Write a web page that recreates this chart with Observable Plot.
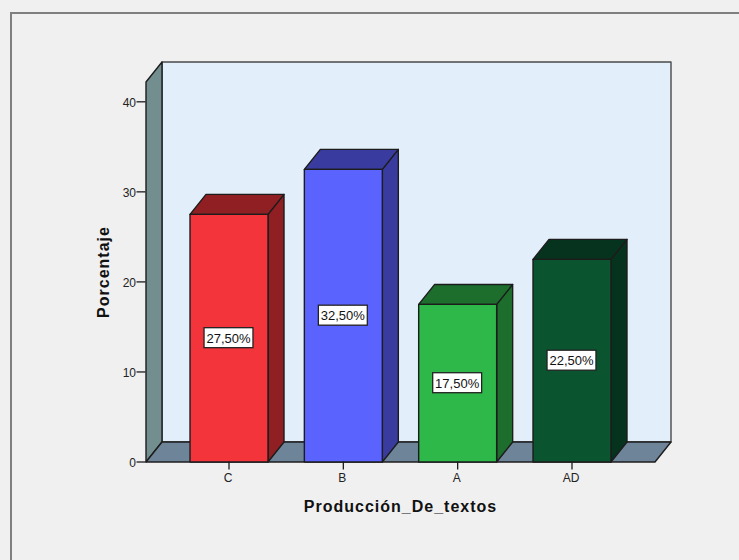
<!DOCTYPE html>
<html>
<head>
<meta charset="utf-8">
<script src="https://cdn.jsdelivr.net/npm/d3@7"></script>
<script src="https://cdn.jsdelivr.net/npm/@observablehq/plot@0.6"></script>
<style>
html,body{margin:0;padding:0;background:#f0f0f0;width:739px;height:560px;overflow:hidden}
#frame{position:absolute;left:10px;top:12px;right:-5px;bottom:-5px;border-left:2px solid #7f7f7f;border-top:2px solid #7f7f7f}
#chart{position:absolute;left:0;top:0}
svg{background:transparent!important}
.axis-title text{letter-spacing:1px}
</style>
</head>
<body>
<div id="frame"></div>
<div id="chart"></div>
<script>
const categories = ["C", "B", "A", "AD"];
const values = [27.5, 32.5, 17.5, 22.5];
const valueLabels = ["27,50%", "32,50%", "17,50%", "22,50%"];
const frontColors = ["#f3343b", "#5b63ff", "#2eb84a", "#0a5530"];
const topColors = ["#8f1f22", "#393c9e", "#1d6e2d", "#06331d"];
const sideColors = ["#8f1f22", "#393c9e", "#1d6e2d", "#06331d"];
const yTicks = [0, 10, 20, 30, 40];
const xTicks = [0, 1, 2, 3];

const xMin = -0.726, xMax = 3.726, yMax = 42.2;
const depthX = 0.14, depthY = 2.22, halfBar = 0.341;
const boxW = 0.214, boxH = 1.11;
const ink = "#1c1c1c";
const tickFont = {fontSize: 12, fontFamily: "Liberation Sans", fill: "#222"};

const poly = (pts, fill, stroke = ink, strokeWidth = 1.4) =>
  Plot.line([...pts, pts[0]].map(([x, y]) => ({x, y})), {
    x: "x", y: "y", fill, stroke, strokeWidth, strokeLinejoin: "round", curve: "linear"
  });

const marks = [
  // back wall
  poly([[xMin + depthX, depthY], [xMax + depthX, depthY], [xMax + depthX, yMax + depthY], [xMin + depthX, yMax + depthY]], "#e2effb", "#4a4a4a", 1.4),
  // left wall
  poly([[xMin, 0], [xMin + depthX, depthY], [xMin + depthX, yMax + depthY], [xMin, yMax]], "#738e8f"),
  // floor
  poly([[xMin, 0], [xMax, 0], [xMax + depthX, depthY], [xMin + depthX, depthY]], "#6e8499")
];

categories.forEach((c, i) => {
  const l = i - halfBar, r = i + halfBar, v = values[i];
  marks.push(
    poly([[r, 0], [r + depthX, depthY], [r + depthX, v + depthY], [r, v]], sideColors[i]),
    poly([[l, v], [r, v], [r + depthX, v + depthY], [l + depthX, v + depthY]], topColors[i]),
    poly([[l, 0], [r, 0], [r, v], [l, v]], frontColors[i])
  );
});

marks.push(
  Plot.rect(categories.map((c, i) => i), {
    x1: i => i - boxW, x2: i => i + boxW,
    y1: i => values[i] / 2 - boxH, y2: i => values[i] / 2 + boxH,
    fill: "white", stroke: "#222", strokeWidth: 1.3
  }),
  Plot.text(categories.map((c, i) => i), {
    x: i => i, y: i => values[i] / 2, text: i => valueLabels[i], dx: -0.5, dy: 0.5,
    fontSize: 13, fill: "#111", fontFamily: "Liberation Sans"
  }),
  // tick lines
  Plot.axisY({ticks: yTicks, tickSize: 9, text: null, label: null, anchor: "left", stroke: ink, strokeWidth: 1.3}),
  Plot.axisX({ticks: xTicks, tickSize: 8, text: null, label: null, anchor: "bottom", stroke: ink, strokeWidth: 1.3}),
  // tick labels
  Plot.axisY({ticks: yTicks, tickSize: 0, tickPadding: 10, label: null, anchor: "left", dy: 1.5, ...tickFont}),
  Plot.axisX({ticks: xTicks, tickFormat: i => categories[i], tickSize: 0, tickPadding: 11, label: null, anchor: "bottom", dx: -1, ...tickFont}),
  Plot.text(["Porcentaje"], {
    frameAnchor: "left", textAnchor: "middle", rotate: -90, dx: -42, text: d => d, className: "axis-title",
    fontWeight: "bold", fontSize: 16, fontFamily: "Liberation Sans", fill: "#111"
  }),
  Plot.text(["Producción_De_textos"], {
    frameAnchor: "bottom", dy: 50, text: d => d, className: "axis-title",
    fontWeight: "bold", fontSize: 16, fontFamily: "Liberation Sans", fill: "#111"
  })
);

const chart = Plot.plot({
  width: 739,
  height: 560,
  marginLeft: 145.5,
  marginRight: 84.5,
  marginTop: 81.5,
  marginBottom: 98.5,
  x: {type: "linear", domain: [xMin, xMax], axis: null},
  y: {type: "linear", domain: [0, yMax], axis: null},
  style: {background: "transparent", overflow: "visible"},
  marks
});
document.getElementById("chart").appendChild(chart);
</script>
</body>
</html>
